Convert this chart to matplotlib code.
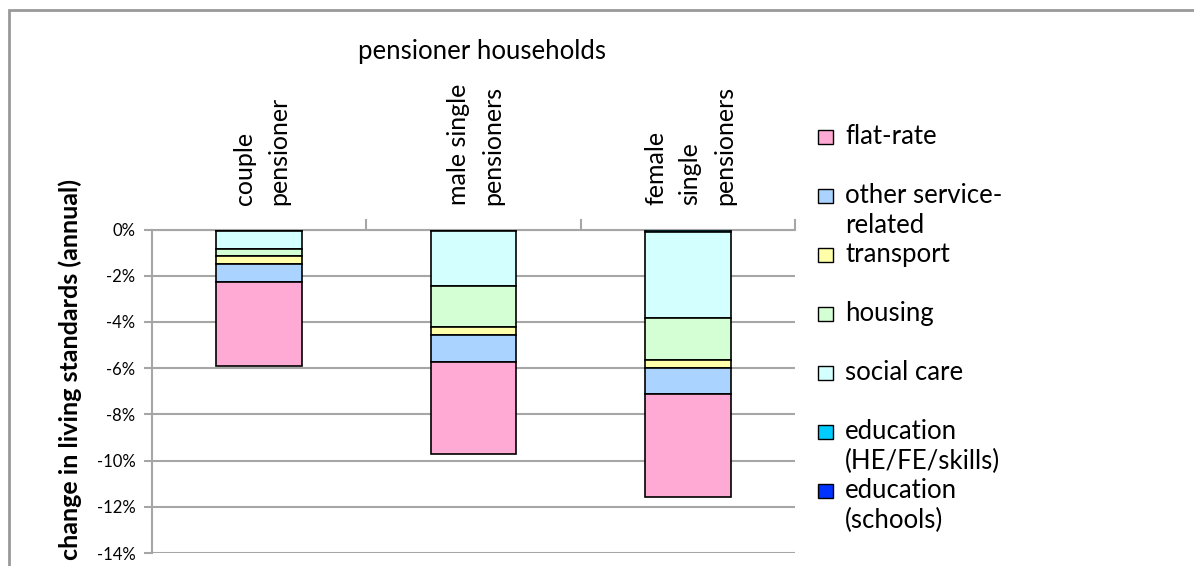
import numpy as np
import matplotlib
matplotlib.use('Agg')
import matplotlib.pyplot as plt
from matplotlib.patches import Rectangle
from matplotlib.transforms import blended_transform_factory

plt.rcParams['font.family'] = ['Lato', 'DejaVu Sans']

# categories and series values (% change, stacked downward from 0)
categories = ['couple\npensioner', 'male single\npensioners', 'female\nsingle\npensioners']
series_names = ['education\n(schools)', 'education\n(HE/FE/skills)', 'social care',
                'housing', 'transport', 'other service-\nrelated', 'flat-rate']
schools = [0.0, 0.0, 0.0]
he_fe = [-0.06, -0.06, -0.12]
social_care = [-0.79, -2.39, -3.70]
housing = [-0.29, -1.79, -1.84]
transport = [-0.36, -0.32, -0.32]
other_service = [-0.77, -1.17, -1.15]
flat_rate = [-3.64, -4.00, -4.45]
yticks = [0, -2, -4, -6, -8, -10, -12, -14]

colors = ['#0033FF', '#00CCFF', '#D4FFFF', '#D4FFD4', '#FFFFAA', '#AAD4FF', '#FFAAD4']
series = [schools, he_fe, social_care, housing, transport, other_service, flat_rate]

W, H = 1194, 566
fig = plt.figure(figsize=(W / 100, H / 100), dpi=100)
ax = fig.add_axes([152 / W, 13 / H, (795 - 152) / W, (553 - 229.5) / H])

x = np.arange(len(categories))
bottom = np.zeros(len(categories))
for vals, col in zip(series, colors):
    ax.bar(x, vals, 0.4, bottom=bottom, color=col, edgecolor='black', linewidth=1.2, zorder=3)
    bottom += np.array(vals)

grey = '#A6A6A6'
ax.set_xlim(-0.5, 2.5)
ax.set_ylim(-14, 0)
ax.set_yticks(yticks)
ax.set_yticklabels([f'{v}%' for v in yticks], fontsize=12)
ax.yaxis.grid(True, color=grey, linewidth=1.5, zorder=0)
ax.tick_params(axis='y', length=6, color=grey, width=1.5, pad=6)
ax.xaxis.tick_top()
ax.set_xticks([0.5, 1.5, 2.5])
ax.set_xticklabels([])
ax.tick_params(axis='x', length=8, color=grey, width=1.5, direction='out')
for s in ['right', 'bottom']:
    ax.spines[s].set_visible(False)
for s in ['left', 'top']:
    ax.spines[s].set_color(grey)
    ax.spines[s].set_linewidth(1.5)

# category labels above the axis
trans = blended_transform_factory(ax.transData, fig.transFigure)
for i, lab in enumerate(categories):
    ax.text(i + 0.01, (H - 205) / H, lab, transform=trans, rotation=90,
            ha='center', va='bottom', multialignment='left', fontsize=18, linespacing=1.6)

fig.text(482 / W, (H - 52) / H, 'pensioner households', ha='center', va='center', fontsize=18.5)
fig.text(70 / W, (H - 369) / H, 'change in living standards (annual)', rotation=90,
         ha='center', va='center', fontsize=18, fontweight='bold')

# legend (drawn by hand, Excel style)
legend_order = list(range(len(series_names)))[::-1]
for k, idx in enumerate(legend_order):
    yc = 137 + 59 * k
    fig.patches.append(Rectangle((818 / W, (H - yc - 7) / H), 15 / W, 14 / H,
                                 facecolor=colors[idx], edgecolor='black', linewidth=1.0,
                                 transform=fig.transFigure))
    fig.text(845 / W, (H - yc + 13) / H, series_names[idx], ha='left', va='top',
             fontsize=18.5, linespacing=1.25)

# outer frame
fig.patches.append(Rectangle((9 / W, -0.1), 1.2, 1.1 - 10 / H, fill=False,
                             edgecolor='#999999', linewidth=2, transform=fig.transFigure))

fig.savefig('out.png', dpi=100)
